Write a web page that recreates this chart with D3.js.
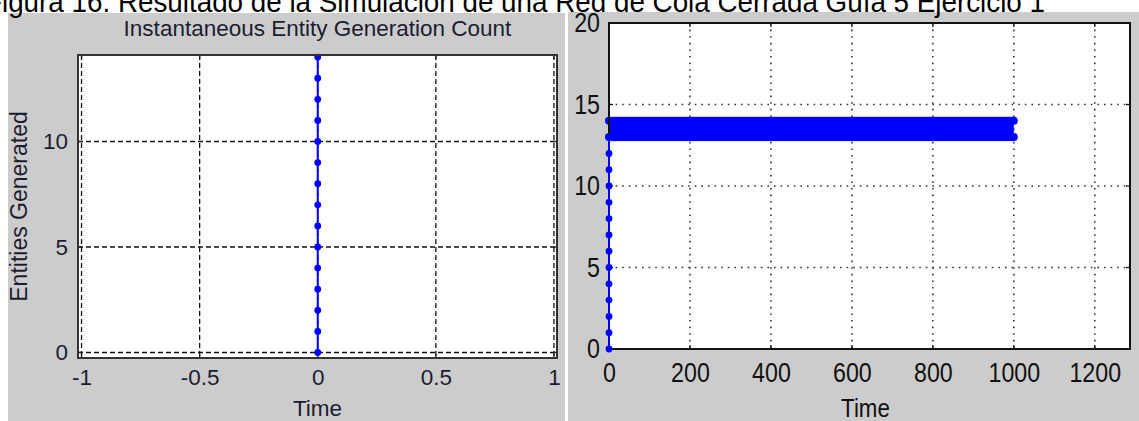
<!DOCTYPE html>
<html>
<head>
<meta charset="utf-8">
<script src="https://cdn.jsdelivr.net/npm/d3@7"></script>
<style>
html, body { margin: 0; padding: 0; background: #fff; overflow: hidden; }
svg { display: block; }
</style>
</head>
<body>
<svg id="chart" width="1139" height="421"></svg>
<script>
width = 1139;
height = 421;

// caption (cut off at the top of the page)
caption = "Figura 16. Resultado de la Simulación de una Red de Cola Cerrada Guía 5 Ejercicio 1";

// left scope: instantaneous entity generation count
leftTitle = "Instantaneous Entity Generation Count";
leftXLabel = "Time";
leftYLabel = "Entities Generated";
leftXTicks = [-1, -0.5, 0, 0.5, 1];
leftYTicks = [0, 5, 10];
genTimes  = [0, 0, 0, 0, 0, 0, 0, 0, 0, 0, 0, 0, 0, 0, 0];
genCounts = [0, 1, 2, 3, 4, 5, 6, 7, 8, 9, 10, 11, 12, 13, 14];

// right scope: entities in system over time
rightXLabel = "Time";
rightXTicks = [0, 200, 400, 600, 800, 1000, 1200];
rightYTicks = [0, 5, 10, 15, 20];
rampTimes  = [0, 0, 0, 0, 0, 0, 0, 0, 0, 0, 0, 0, 0, 0];
rampCounts = [0, 1, 2, 3, 4, 5, 6, 7, 8, 9, 10, 11, 12, 13];
// count toggles between these two levels from t=0 until t=1000
bandTimes  = [0, 1000];
bandLevels = [13, 14];

GRAY = '#cccccc';
BLUE = '#0000ff';
TICK = 4;

svg = d3.select('#chart');

// panels
svg.append('rect').attr('x', 8).attr('y', 13).attr('width', 557).attr('height', height - 13).attr('fill', GRAY);
svg.append('rect').attr('x', 568).attr('y', 12).attr('width', width - 568).attr('height', height - 12).attr('fill', GRAY);

function inwardTicks(g, box, xs, ys, xScale, yScale, color){
	xs.forEach(v => {
		g.append('line').attr('x1', xScale(v)).attr('x2', xScale(v)).attr('y1', box.y1).attr('y2', box.y1 - TICK)
			.attr('stroke', color).attr('stroke-width', 1.3);
		g.append('line').attr('x1', xScale(v)).attr('x2', xScale(v)).attr('y1', box.y0).attr('y2', box.y0 + TICK)
			.attr('stroke', color).attr('stroke-width', 1.3);
	});
	ys.forEach(v => {
		g.append('line').attr('y1', yScale(v)).attr('y2', yScale(v)).attr('x1', box.x0).attr('x2', box.x0 + TICK)
			.attr('stroke', color).attr('stroke-width', 1.3);
		g.append('line').attr('y1', yScale(v)).attr('y2', yScale(v)).attr('x1', box.x1).attr('x2', box.x1 - TICK)
			.attr('stroke', color).attr('stroke-width', 1.3);
	});
}

/* ---------------- left scope ---------------- */
L = {x0: 78, x1: 557, y0: 55, y1: 358};
xL = d3.scaleLinear().domain([-1.015, 1.013]).range([L.x0, L.x1]);
yL = d3.scaleLinear().domain([-0.26, 14.1]).range([L.y1, L.y0]);

left = svg.append('g');
left.append('rect').attr('x', L.x0).attr('y', L.y0).attr('width', L.x1 - L.x0).attr('height', L.y1 - L.y0)
	.attr('fill', '#fff');

// dashed grid
left.selectAll('.gx').data(leftXTicks).enter().append('line')
	.attr('x1', d => xL(d)).attr('x2', d => xL(d)).attr('y1', L.y0).attr('y2', L.y1)
	.attr('stroke', '#111').attr('stroke-width', 1.3).attr('stroke-dasharray', '5,3');
left.selectAll('.gy').data(leftYTicks).enter().append('line')
	.attr('y1', d => yL(d)).attr('y2', d => yL(d)).attr('x1', L.x0).attr('x2', L.x1)
	.attr('stroke', '#111').attr('stroke-width', 1.3).attr('stroke-dasharray', '5,3');
inwardTicks(left, L, leftXTicks, leftYTicks, xL, yL, '#222');

// data
left.append('path')
	.attr('d', d3.line().x((d, i) => xL(genTimes[i])).y(d => yL(d))(genCounts))
	.attr('fill', 'none').attr('stroke', BLUE).attr('stroke-width', 2);
left.selectAll('.gm').data(genCounts).enter().append('circle')
	.attr('cx', (d, i) => xL(genTimes[i])).attr('cy', d => yL(d)).attr('r', 3.4).attr('fill', BLUE);

// box
left.append('rect').attr('x', L.x0).attr('y', L.y0).attr('width', L.x1 - L.x0).attr('height', L.y1 - L.y0)
	.attr('fill', 'none').attr('stroke', '#333').attr('stroke-width', 2);

leftFont = 'Arial, "Liberation Sans", sans-serif';
LF = 22.5;
axL = left.append('g').attr('transform', `translate(0,${L.y1})`)
	.call(d3.axisBottom(xL).tickValues(leftXTicks).tickSize(0).tickPadding(11).tickFormat(d => String(d)));
axL.select('.domain').remove();
axL.selectAll('text').attr('font-size', LF).attr('font-family', leftFont).attr('fill', '#1c1c30');

ayL = left.append('g').attr('transform', `translate(${L.x0},0)`)
	.call(d3.axisLeft(yL).tickValues(leftYTicks).tickSize(0).tickPadding(10).tickFormat(d => String(d)));
ayL.select('.domain').remove();
ayL.selectAll('text').attr('font-size', LF).attr('font-family', leftFont).attr('fill', '#1c1c30');

left.append('text').attr('x', (L.x0 + L.x1) / 2).attr('y', 36).attr('text-anchor', 'middle')
	.attr('font-size', LF).attr('font-family', leftFont).attr('fill', '#1c1c30').text(leftTitle);
left.append('text').attr('x', (L.x0 + L.x1) / 2).attr('y', 416).attr('text-anchor', 'middle')
	.attr('font-size', LF).attr('font-family', leftFont).attr('fill', '#1c1c30').text(leftXLabel);
left.append('text').attr('transform', `translate(27,${(L.y0 + L.y1) / 2}) rotate(-90)`).attr('text-anchor', 'middle')
	.attr('font-size', 23).attr('font-family', leftFont).attr('fill', '#1c1c30').text(leftYLabel);

/* ---------------- right scope ---------------- */
R = {x0: 609, x1: 1130, y0: 23, y1: 349};
xR = d3.scaleLinear().domain([0, 1287]).range([R.x0, R.x1]);
yR = d3.scaleLinear().domain([0, 20]).range([R.y1, R.y0]);

right = svg.append('g');
right.append('rect').attr('x', R.x0).attr('y', R.y0).attr('width', R.x1 - R.x0).attr('height', R.y1 - R.y0)
	.attr('fill', '#fff');

// dotted grid
right.selectAll('.gx').data(rightXTicks.filter(d => d > 0)).enter().append('line')
	.attr('x1', d => xR(d)).attr('x2', d => xR(d)).attr('y1', R.y0).attr('y2', R.y1)
	.attr('stroke', '#333').attr('stroke-width', 1.6).attr('stroke-dasharray', '1.6,5');
right.selectAll('.gy').data(rightYTicks.filter(d => d > 0 && d < 20)).enter().append('line')
	.attr('y1', d => yR(d)).attr('y2', d => yR(d)).attr('x1', R.x0).attr('x2', R.x1)
	.attr('stroke', '#333').attr('stroke-width', 1.6).attr('stroke-dasharray', '1.6,5');
inwardTicks(right, R, rightXTicks, rightYTicks, xR, yR, '#111');

// toggling band 13 <-> 14
mr = 4;
right.append('rect')
	.attr('x', xR(bandTimes[0])).attr('width', xR(bandTimes[1]) - xR(bandTimes[0]))
	.attr('y', yR(bandLevels[1]) - mr).attr('height', yR(bandLevels[0]) - yR(bandLevels[1]) + 2 * mr)
	.attr('fill', BLUE);
right.selectAll('.bm').data(bandLevels).enter().append('circle')
	.attr('cx', xR(bandTimes[1])).attr('cy', d => yR(d)).attr('r', mr).attr('fill', BLUE);
right.selectAll('.bm0').data(bandLevels).enter().append('circle')
	.attr('cx', xR(bandTimes[0])).attr('cy', d => yR(d)).attr('r', mr).attr('fill', BLUE);

// ramp at t=0
right.append('path')
	.attr('d', d3.line().x((d, i) => xR(rampTimes[i])).y(d => yR(d))(rampCounts))
	.attr('fill', 'none').attr('stroke', BLUE).attr('stroke-width', 2);

// box
right.append('rect').attr('x', R.x0).attr('y', R.y0).attr('width', R.x1 - R.x0).attr('height', R.y1 - R.y0)
	.attr('fill', 'none').attr('stroke', '#111').attr('stroke-width', 2);
// repaint the ramp over the left edge
right.append('line').attr('x1', xR(0)).attr('x2', xR(0)).attr('y1', yR(0)).attr('y2', yR(13))
	.attr('stroke', BLUE).attr('stroke-width', 2);
right.selectAll('.rm').data(rampCounts).enter().append('circle')
	.attr('cx', (d, i) => xR(rampTimes[i])).attr('cy', d => yR(d)).attr('r', 3.4).attr('fill', BLUE);

rightFont = 'Arial, "Liberation Sans", sans-serif';
sx = 0.86;
axR = right.append('g').attr('transform', `translate(0,${R.y1})`)
	.call(d3.axisBottom(xR).tickValues(rightXTicks).tickSize(0).tickPadding(14).tickFormat(d => String(d)));
axR.select('.domain').remove();
axR.selectAll('text').attr('font-size', 27).attr('font-family', rightFont).attr('fill', '#111')
	.attr('transform', `scale(${sx},1)`);

ayR = right.append('g').attr('transform', `translate(${R.x0},0)`)
	.call(d3.axisLeft(yR).tickValues(rightYTicks).tickSize(0).tickFormat(d => String(d)));
ayR.select('.domain').remove();
ayR.selectAll('text').attr('font-size', 27).attr('font-family', rightFont).attr('fill', '#111')
	.attr('x', -9 / sx).attr('transform', `scale(${sx},1)`);

right.append('text').attr('transform', `translate(${(R.x0 + R.x1) / 2 - 4},417) scale(${sx},1)`).attr('text-anchor', 'middle')
	.attr('font-size', 26).attr('font-family', rightFont).attr('fill', '#111').text(rightXLabel);

// caption, only its lower half fits on the page
svg.append('text').attr('x', -15).attr('y', 12).attr('font-size', 30)
	.attr('font-family', 'Arial, "Liberation Sans", sans-serif').attr('fill', '#000')
	.attr('textLength', 1060).attr('lengthAdjust', 'spacingAndGlyphs').text(caption);
</script>
</body>
</html>
